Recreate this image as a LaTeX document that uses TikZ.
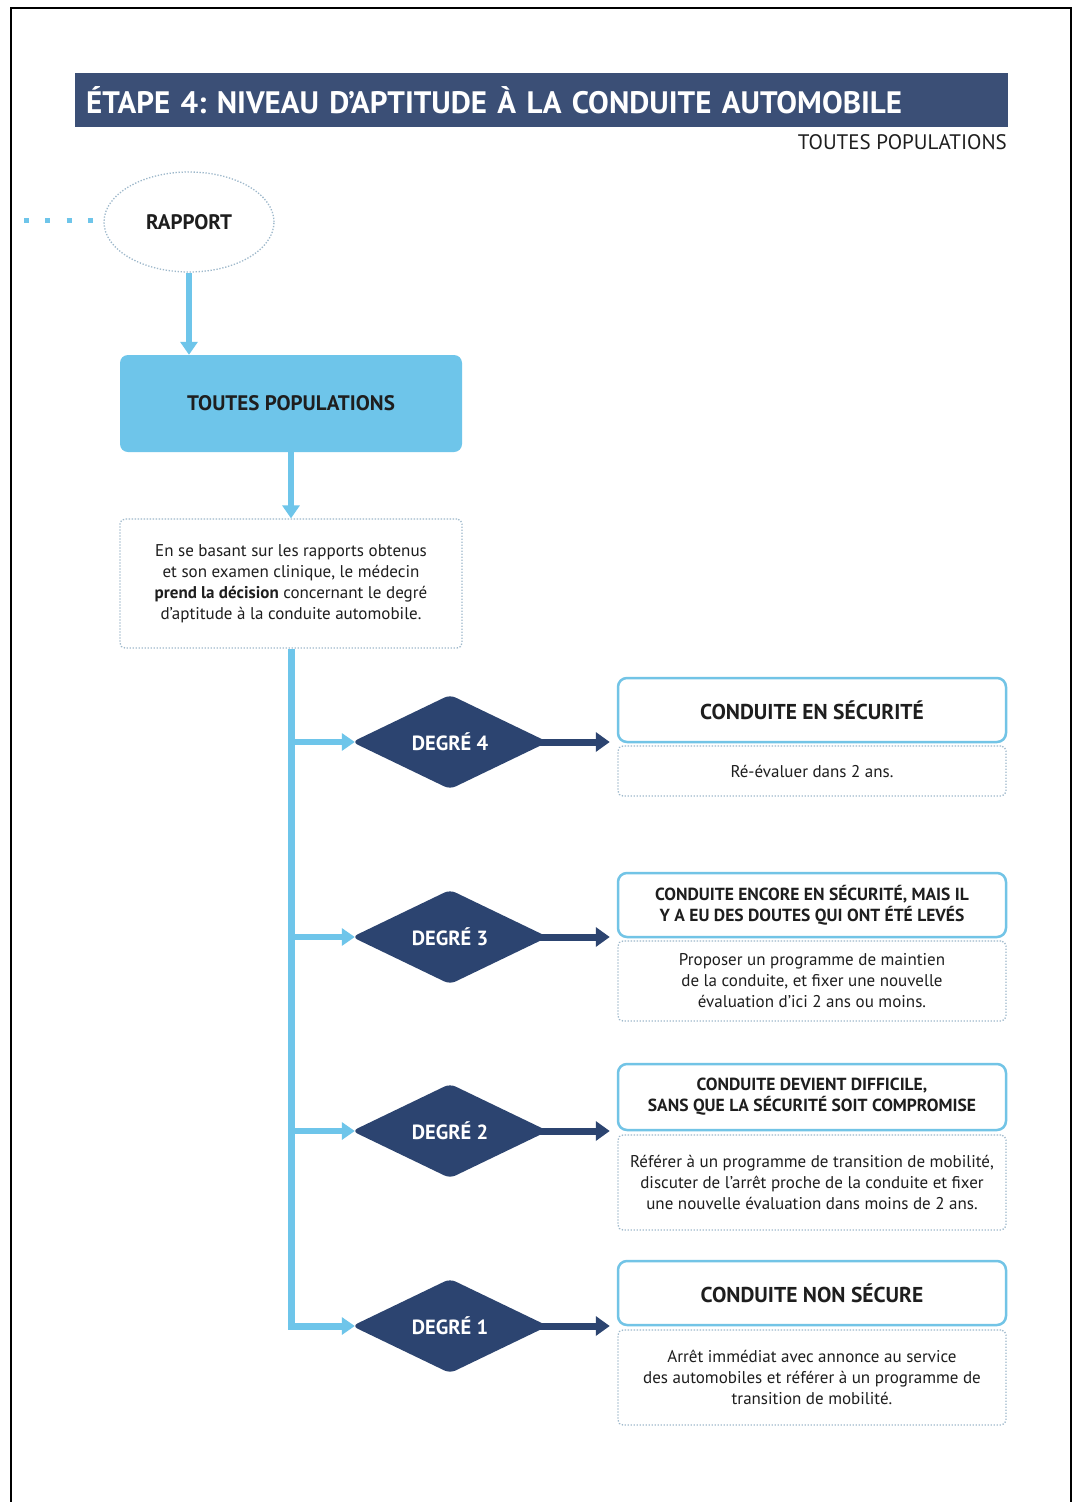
\documentclass[tikz,border=0pt]{standalone}
\usepackage{fontspec}
\setmainfont{PT Sans}
\frenchspacing
\usetikzlibrary{arrows.meta,shapes.geometric}
\definecolor{navy}{HTML}{3B4F76}
\definecolor{dnavy}{HTML}{2C4470}
\definecolor{lblue}{HTML}{6EC5EA}
\definecolor{bblue}{HTML}{72C4E6}
\definecolor{dotc}{HTML}{9DB8CB}
\definecolor{txtc}{HTML}{1E1E1E}
\tikzset{
  lbline/.style={draw=lblue, line width=6pt},
  lbarrow/.style={lbline, -{Triangle[width=17pt,length=13pt]}},
  dkarrow/.style={draw=dnavy, line width=7pt, -{Triangle[width=19pt,length=14pt]}},
  dotbox/.style={draw=dotc, line width=1.3pt, dash pattern=on 1.3pt off 1.7pt, rounded corners=5pt, inner sep=0pt, align=center, text=txtc, font=\fontsize{17}{21}\selectfont},
  titlebox/.style={draw=bblue, line width=2.5pt, fill=white, rounded corners=9pt, inner sep=0pt, align=center, text=txtc, minimum width=388pt},
  degre/.style={diamond, fill=dnavy, text=white, minimum width=196pt, minimum height=94pt, inner sep=0pt, rounded corners=6pt, font=\fontsize{20.5}{24}\selectfont\bfseries},
}
\begin{document}
\begin{tikzpicture}[x=1pt,y=-1pt]
\useasboundingbox (0,0) rectangle (1074,1502);
\fill[white] (0,0) rectangle (1074,1502);
% frame
\draw[line width=2pt] (11,1510) -- (11,8) -- (1071,8) -- (1071,1510);
% header
\node[fill=navy, anchor=north west, minimum height=54pt, text width=911pt, inner xsep=11pt, inner ysep=0pt, align=left, text=white, font=\fontsize{31}{34}\selectfont\bfseries] (hdr) at (75,73) {ÉTAPE 4: NIVEAU D’APTITUDE À LA CONDUITE AUTOMOBILE};
\node[anchor=east, inner sep=0pt, text=txtc, font=\fontsize{21}{24}\selectfont] (sub) at (1007,142) {TOUTES POPULATIONS};
% rapport
\node[ellipse, draw=dotc, line width=1.3pt, dash pattern=on 1.3pt off 1.7pt, minimum width=170pt, minimum height=100pt, inner sep=0pt, text=txtc, font=\fontsize{21}{24}\selectfont\bfseries] (rap) at (189,222) {RAPPORT};
\coordinate (src) at (24,220);
\draw[draw=lblue, line width=5pt, dash pattern=on 5pt off 16.3pt] (src) -- (rap.west |- src);
% toutes populations box
\node[fill=lblue, rounded corners=8pt, minimum width=342pt, minimum height=97pt, inner sep=0pt, text=txtc, font=\fontsize{21}{24}\selectfont\bfseries] (pop) at (291,403.5) {TOUTES POPULATIONS};
\draw[lbarrow] (rap.south) -- (rap.south |- pop.north);
% decision text
\node[dotbox, minimum width=342pt, minimum height=129pt] (txt) at (291,583.5) {En se basant sur les rapports obtenus\\et son examen clinique, le médecin\\\textbf{prend la décision} concernant le degré\\d’aptitude à la conduite automobile.};
\draw[lbarrow] (pop.south) -- (txt.north);
% diamonds
\node[degre] (d4) at (450,742) {DEGRÉ 4};
\node[degre] (d3) at (450,937) {DEGRÉ 3};
\node[degre] (d2) at (450,1131) {DEGRÉ 2};
\node[degre] (d1) at (450,1326) {DEGRÉ 1};
% trunk and branches
\draw[lbarrow, line width=7pt, line join=miter, shorten >=-3pt] (txt.south) |- (d1.west);
\draw[lbarrow, shorten >=-3pt] (txt.south |- d4.west) -- (d4.west);
\draw[lbarrow, shorten >=-3pt] (txt.south |- d3.west) -- (d3.west);
\draw[lbarrow, shorten >=-3pt] (txt.south |- d2.west) -- (d2.west);
% result boxes
\node[titlebox, minimum height=64pt, font=\fontsize{21.5}{24}\selectfont\bfseries] (t4) at (812,710) {CONDUITE EN SÉCURITÉ};
\node[dotbox, minimum width=388pt, minimum height=50pt] (b4) at (812,771) {Ré-évaluer dans 2 ans.};
\node[titlebox, minimum height=64pt, font=\fontsize{17.5}{21}\selectfont\bfseries] (t3) at (812,905) {CONDUITE ENCORE EN SÉCURITÉ, MAIS IL\\Y A EU DES DOUTES QUI ONT ÉTÉ LEVÉS};
\node[dotbox, minimum width=388pt, minimum height=80pt] (b3) at (812,981) {Proposer un programme de maintien\\de la conduite, et fixer une nouvelle\\évaluation d’ici 2 ans ou moins.};
\node[titlebox, minimum height=66pt, font=\fontsize{17.5}{21}\selectfont\bfseries] (t2) at (812,1097) {CONDUITE DEVIENT DIFFICILE,\\SANS QUE LA SÉCURITÉ SOIT COMPROMISE};
\node[dotbox, minimum width=388pt, minimum height=95pt] (b2) at (812,1182.5) {Référer à un programme de transition de mobilité,\\discuter de l’arrêt proche de la conduite et fixer\\une nouvelle évaluation dans moins de 2 ans.};
\node[titlebox, minimum height=64pt, font=\fontsize{21.5}{24}\selectfont\bfseries] (t1) at (812,1293) {CONDUITE NON SÉCURE};
\node[dotbox, minimum width=388pt, minimum height=95pt] (b1) at (812,1377.5) {Arrêt immédiat avec annonce au service\\des automobiles et référer à un programme de\\transition de mobilité.};
% dark arrows
\draw[dkarrow, shorten >=7pt, shorten <=-12pt] (d4.east) -- (d4.east -| t4.west);
\draw[dkarrow, shorten >=7pt, shorten <=-12pt] (d3.east) -- (d3.east -| t3.west);
\draw[dkarrow, shorten >=7pt, shorten <=-12pt] (d2.east) -- (d2.east -| t2.west);
\draw[dkarrow, shorten >=7pt, shorten <=-12pt] (d1.east) -- (d1.east -| t1.west);
\end{tikzpicture}
\end{document}
